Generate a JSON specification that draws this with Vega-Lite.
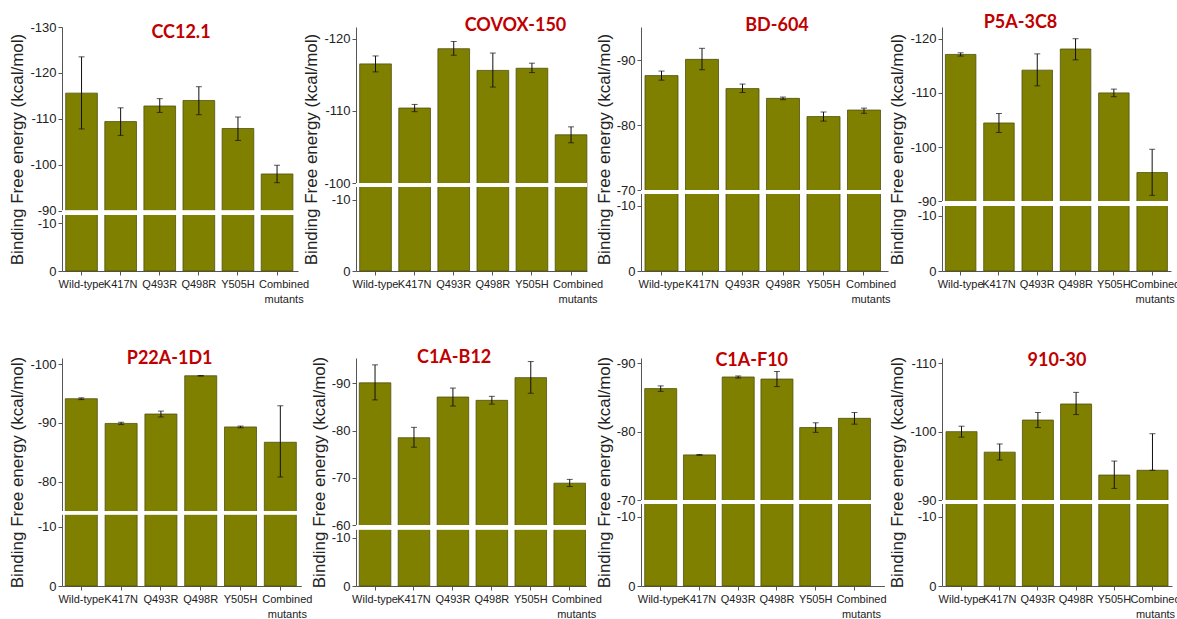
{
  "$schema": "https://vega.github.io/schema/vega-lite/v6.json",
  "padding": {"left": 8, "top": 14, "right": 0, "bottom": 5},
  "background": "white",
  "data": {"values": [
    {"panel": "CC12.1", "mutant": "Wild-type", "value": -115.6, "lo": -107.8, "hi": -123.5},
    {"panel": "CC12.1", "mutant": "K417N", "value": -109.4, "lo": -106.4, "hi": -112.4},
    {"panel": "CC12.1", "mutant": "Q493R", "value": -112.8, "lo": -111.4, "hi": -114.4},
    {"panel": "CC12.1", "mutant": "Q498R", "value": -114.0, "lo": -110.9, "hi": -117.0},
    {"panel": "CC12.1", "mutant": "Y505H", "value": -107.9, "lo": -105.3, "hi": -110.4},
    {"panel": "CC12.1", "mutant": "Combined mutants", "value": -98.0, "lo": -96.1, "hi": -99.9},
    {"panel": "COVOX-150", "mutant": "Wild-type", "value": -116.5, "lo": -115.4, "hi": -117.6},
    {"panel": "COVOX-150", "mutant": "K417N", "value": -110.4, "lo": -109.9, "hi": -110.9},
    {"panel": "COVOX-150", "mutant": "Q493R", "value": -118.6, "lo": -117.7, "hi": -119.6},
    {"panel": "COVOX-150", "mutant": "Q498R", "value": -115.6, "lo": -113.3, "hi": -118.0},
    {"panel": "COVOX-150", "mutant": "Y505H", "value": -115.9, "lo": -115.3, "hi": -116.6},
    {"panel": "COVOX-150", "mutant": "Combined mutants", "value": -106.7, "lo": -105.6, "hi": -107.8},
    {"panel": "BD-604", "mutant": "Wild-type", "value": -87.6, "lo": -86.9, "hi": -88.3},
    {"panel": "BD-604", "mutant": "K417N", "value": -90.1, "lo": -88.5, "hi": -91.8},
    {"panel": "BD-604", "mutant": "Q493R", "value": -85.6, "lo": -85.0, "hi": -86.3},
    {"panel": "BD-604", "mutant": "Q498R", "value": -84.1, "lo": -83.9, "hi": -84.3},
    {"panel": "BD-604", "mutant": "Y505H", "value": -81.3, "lo": -80.6, "hi": -82.0},
    {"panel": "BD-604", "mutant": "Combined mutants", "value": -82.3, "lo": -81.8, "hi": -82.6},
    {"panel": "P5A-3C8", "mutant": "Wild-type", "value": -117.1, "lo": -116.8, "hi": -117.4},
    {"panel": "P5A-3C8", "mutant": "K417N", "value": -104.45, "lo": -102.7, "hi": -106.2},
    {"panel": "P5A-3C8", "mutant": "Q493R", "value": -114.2, "lo": -111.3, "hi": -117.2},
    {"panel": "P5A-3C8", "mutant": "Q498R", "value": -118.1, "lo": -116.1, "hi": -120.0},
    {"panel": "P5A-3C8", "mutant": "Y505H", "value": -110.0, "lo": -109.3, "hi": -110.7},
    {"panel": "P5A-3C8", "mutant": "Combined mutants", "value": -95.3, "lo": -91.1, "hi": -99.6},
    {"panel": "P22A-1D1", "mutant": "Wild-type", "value": -94.1, "lo": -93.95, "hi": -94.25},
    {"panel": "P22A-1D1", "mutant": "K417N", "value": -89.9, "lo": -89.7, "hi": -90.1},
    {"panel": "P22A-1D1", "mutant": "Q493R", "value": -91.5, "lo": -91.0, "hi": -92.0},
    {"panel": "P22A-1D1", "mutant": "Q498R", "value": -98.0, "lo": -97.95, "hi": -98.05},
    {"panel": "P22A-1D1", "mutant": "Y505H", "value": -89.3, "lo": -89.15, "hi": -89.45},
    {"panel": "P22A-1D1", "mutant": "Combined mutants", "value": -86.7, "lo": -80.8, "hi": -92.9},
    {"panel": "C1A-B12", "mutant": "Wild-type", "value": -90.1, "lo": -86.5, "hi": -93.9},
    {"panel": "C1A-B12", "mutant": "K417N", "value": -78.5, "lo": -76.5, "hi": -80.7},
    {"panel": "C1A-B12", "mutant": "Q493R", "value": -87.1, "lo": -85.2, "hi": -89.0},
    {"panel": "C1A-B12", "mutant": "Q498R", "value": -86.4, "lo": -85.6, "hi": -87.25},
    {"panel": "C1A-B12", "mutant": "Y505H", "value": -91.2, "lo": -87.9, "hi": -94.6},
    {"panel": "C1A-B12", "mutant": "Combined mutants", "value": -68.9, "lo": -68.2, "hi": -69.7},
    {"panel": "C1A-F10", "mutant": "Wild-type", "value": -86.3, "lo": -85.9, "hi": -86.7},
    {"panel": "C1A-F10", "mutant": "K417N", "value": -76.6, "lo": -76.55, "hi": -76.65},
    {"panel": "C1A-F10", "mutant": "Q493R", "value": -88.0, "lo": -87.85, "hi": -88.15},
    {"panel": "C1A-F10", "mutant": "Q498R", "value": -87.7, "lo": -86.6, "hi": -88.8},
    {"panel": "C1A-F10", "mutant": "Y505H", "value": -80.6, "lo": -79.9, "hi": -81.3},
    {"panel": "C1A-F10", "mutant": "Combined mutants", "value": -81.95, "lo": -81.1, "hi": -82.8},
    {"panel": "910-30", "mutant": "Wild-type", "value": -100.0, "lo": -99.2, "hi": -100.8},
    {"panel": "910-30", "mutant": "K417N", "value": -97.0, "lo": -95.85, "hi": -98.2},
    {"panel": "910-30", "mutant": "Q493R", "value": -101.7, "lo": -100.6, "hi": -102.8},
    {"panel": "910-30", "mutant": "Q498R", "value": -104.05, "lo": -102.5, "hi": -105.75},
    {"panel": "910-30", "mutant": "Y505H", "value": -93.65, "lo": -91.7, "hi": -95.7},
    {"panel": "910-30", "mutant": "Combined mutants", "value": -94.35, "lo": -94.35, "hi": -99.7}
  ]},
  "columns": 4,
  "spacing": {"row": 87, "column": 54},
  "bounds": "flush",
  "align": "none",
  "concat": [
    {
      "width": 236, "height": 244,
      "title": {"text": "CC12.1", "dx": 1, "dy": 25},
      "transform": [{"filter": "datum.panel === 'CC12.1'"}],
      "layer": [
        {"mark": {"type": "bar", "fill": "#808000", "stroke": "#4f4f10", "strokeWidth": 0.8},
         "encoding": {
           "x": {"field": "mutant", "type": "nominal", "sort": null, "title": null, "scale": {"paddingInner": 0.19, "paddingOuter": 0.1125, "align": 0.42}, "axis": {"labelExpr": "datum.label == 'Combined mutants' ? ['Combined', 'mutants'] : datum.label", "labelOffset": {"condition": {"test": "datum.value == 'Combined mutants'", "value": 7}, "value": 0}}},
           "y": {"field": "value", "type": "quantitative", "title": "Binding Free energy (kcal/mol)", "scale": {"domain": [0, -11.74, -90, -130], "range": [244, 188, 183.7, 0], "nice": false, "zero": false}, "axis": {"values": [0, -10, -90, -100, -110, -120, -130], "labelExpr": "'' + datum.value"}},
           "y2": {"datum": 0}}},
        {"mark": {"type": "rect", "fill": "white"}, "encoding": {"y": {"datum": -11.74, "type": "quantitative", "title": "Binding Free energy (kcal/mol)"}, "y2": {"datum": -90}}},
        {"mark": {"type": "rule", "color": "#111", "strokeWidth": 1}, "encoding": {"x": {"field": "mutant", "type": "nominal", "sort": null, "title": null}, "y": {"field": "lo", "type": "quantitative", "title": "Binding Free energy (kcal/mol)"}, "y2": {"field": "hi"}}},
        {"mark": {"type": "tick", "color": "#111", "size": 6, "thickness": 1}, "encoding": {"x": {"field": "mutant", "type": "nominal", "sort": null, "title": null}, "y": {"field": "lo", "type": "quantitative", "title": "Binding Free energy (kcal/mol)"}}},
        {"mark": {"type": "tick", "color": "#111", "size": 6, "thickness": 1}, "encoding": {"x": {"field": "mutant", "type": "nominal", "sort": null, "title": null}, "y": {"field": "hi", "type": "quantitative", "title": "Binding Free energy (kcal/mol)"}}}
      ]
    },
    {
      "width": 231, "height": 244,
      "title": {"text": "COVOX-150", "dx": 44, "dy": 11.8},
      "transform": [{"filter": "datum.panel === 'COVOX-150'"}],
      "layer": [
        {"mark": {"type": "bar", "fill": "#808000", "stroke": "#4f4f10", "strokeWidth": 0.8},
         "encoding": {
           "x": {"field": "mutant", "type": "nominal", "sort": null, "title": null, "scale": {"paddingInner": 0.19, "paddingOuter": 0.0486, "align": 0.97}, "axis": {"labelExpr": "datum.label == 'Combined mutants' ? ['Combined', 'mutants'] : datum.label", "labelOffset": {"condition": {"test": "datum.value == 'Combined mutants'", "value": 7}, "value": 0}}},
           "y": {"field": "value", "type": "quantitative", "title": "Binding Free energy (kcal/mol)", "scale": {"domain": [0, -11.83, -100, -121.6], "range": [244, 160, 156.3, 0], "nice": false, "zero": false}, "axis": {"values": [0, -10, -100, -110, -120], "labelExpr": "'' + datum.value"}},
           "y2": {"datum": 0}}},
        {"mark": {"type": "rect", "fill": "white"}, "encoding": {"y": {"datum": -11.83, "type": "quantitative", "title": "Binding Free energy (kcal/mol)"}, "y2": {"datum": -100}}},
        {"mark": {"type": "rule", "color": "#111", "strokeWidth": 1}, "encoding": {"x": {"field": "mutant", "type": "nominal", "sort": null, "title": null}, "y": {"field": "lo", "type": "quantitative", "title": "Binding Free energy (kcal/mol)"}, "y2": {"field": "hi"}}},
        {"mark": {"type": "tick", "color": "#111", "size": 6, "thickness": 1}, "encoding": {"x": {"field": "mutant", "type": "nominal", "sort": null, "title": null}, "y": {"field": "lo", "type": "quantitative", "title": "Binding Free energy (kcal/mol)"}}},
        {"mark": {"type": "tick", "color": "#111", "size": 6, "thickness": 1}, "encoding": {"x": {"field": "mutant", "type": "nominal", "sort": null, "title": null}, "y": {"field": "hi", "type": "quantitative", "title": "Binding Free energy (kcal/mol)"}}}
      ]
    },
    {
      "width": 247, "height": 244,
      "title": {"text": "BD-604", "dx": 12.5, "dy": 11.8},
      "transform": [{"filter": "datum.panel === 'BD-604'"}],
      "layer": [
        {"mark": {"type": "bar", "fill": "#808000", "stroke": "#4f4f10", "strokeWidth": 0.8},
         "encoding": {
           "x": {"field": "mutant", "type": "nominal", "sort": null, "title": null, "scale": {"paddingInner": 0.185, "paddingOuter": 0.142, "align": 0.348}, "axis": {"labelExpr": "datum.label == 'Combined mutants' ? ['Combined', 'mutants'] : datum.label", "labelOffset": {"condition": {"test": "datum.value == 'Combined mutants'", "value": 7}, "value": 0}}},
           "y": {"field": "value", "type": "quantitative", "title": "Binding Free energy (kcal/mol)", "scale": {"domain": [0, -11.9, -70, -95.08], "range": [244, 166.6, 163, 0], "nice": false, "zero": false}, "axis": {"values": [0, -10, -70, -80, -90], "labelExpr": "'' + datum.value"}},
           "y2": {"datum": 0}}},
        {"mark": {"type": "rect", "fill": "white"}, "encoding": {"y": {"datum": -11.9, "type": "quantitative", "title": "Binding Free energy (kcal/mol)"}, "y2": {"datum": -70}}},
        {"mark": {"type": "rule", "color": "#111", "strokeWidth": 1}, "encoding": {"x": {"field": "mutant", "type": "nominal", "sort": null, "title": null}, "y": {"field": "lo", "type": "quantitative", "title": "Binding Free energy (kcal/mol)"}, "y2": {"field": "hi"}}},
        {"mark": {"type": "tick", "color": "#111", "size": 6, "thickness": 1}, "encoding": {"x": {"field": "mutant", "type": "nominal", "sort": null, "title": null}, "y": {"field": "lo", "type": "quantitative", "title": "Binding Free energy (kcal/mol)"}}},
        {"mark": {"type": "tick", "color": "#111", "size": 6, "thickness": 1}, "encoding": {"x": {"field": "mutant", "type": "nominal", "sort": null, "title": null}, "y": {"field": "hi", "type": "quantitative", "title": "Binding Free energy (kcal/mol)"}}}
      ]
    },
    {
      "width": 229, "height": 244,
      "title": {"text": "P5A-3C8", "dx": -36, "dy": 9.2},
      "transform": [{"filter": "datum.panel === 'P5A-3C8'"}],
      "layer": [
        {"mark": {"type": "bar", "fill": "#808000", "stroke": "#4f4f10", "strokeWidth": 0.8},
         "encoding": {
           "x": {"field": "mutant", "type": "nominal", "sort": null, "title": null, "scale": {"paddingInner": 0.204, "paddingOuter": 0.0914, "align": 0.486}, "axis": {"labelExpr": "datum.label == 'Combined mutants' ? ['Combined', 'mutants'] : datum.label", "labelOffset": {"condition": {"test": "datum.value == 'Combined mutants'", "value": 3}, "value": 0}}},
           "y": {"field": "value", "type": "quantitative", "title": "Binding Free energy (kcal/mol)", "scale": {"domain": [0, -11.87, -90, -122.16], "range": [244, 178.7, 174.3, 0], "nice": false, "zero": false}, "axis": {"values": [0, -10, -90, -100, -110, -120], "labelExpr": "'' + datum.value"}},
           "y2": {"datum": 0}}},
        {"mark": {"type": "rect", "fill": "white"}, "encoding": {"y": {"datum": -11.87, "type": "quantitative", "title": "Binding Free energy (kcal/mol)"}, "y2": {"datum": -90}}},
        {"mark": {"type": "rule", "color": "#111", "strokeWidth": 1}, "encoding": {"x": {"field": "mutant", "type": "nominal", "sort": null, "title": null}, "y": {"field": "lo", "type": "quantitative", "title": "Binding Free energy (kcal/mol)"}, "y2": {"field": "hi"}}},
        {"mark": {"type": "tick", "color": "#111", "size": 6, "thickness": 1}, "encoding": {"x": {"field": "mutant", "type": "nominal", "sort": null, "title": null}, "y": {"field": "lo", "type": "quantitative", "title": "Binding Free energy (kcal/mol)"}}},
        {"mark": {"type": "tick", "color": "#111", "size": 6, "thickness": 1}, "encoding": {"x": {"field": "mutant", "type": "nominal", "sort": null, "title": null}, "y": {"field": "hi", "type": "quantitative", "title": "Binding Free energy (kcal/mol)"}}}
      ]
    },
    {
      "width": 239.3, "height": 228,
      "title": {"text": "P22A-1D1", "dx": -12, "dy": 15.5},
      "transform": [{"filter": "datum.panel === 'P22A-1D1'"}],
      "layer": [
        {"mark": {"type": "bar", "fill": "#808000", "stroke": "#4f4f10", "strokeWidth": 0.8},
         "encoding": {
           "x": {"field": "mutant", "type": "nominal", "sort": null, "title": null, "scale": {"paddingInner": 0.196, "paddingOuter": 0.104, "align": 0.4}, "axis": {"labelExpr": "datum.label == 'Combined mutants' ? ['Combined', 'mutants'] : datum.label", "labelOffset": {"condition": {"test": "datum.value == 'Combined mutants'", "value": 7}, "value": 0}}},
           "y": {"field": "value", "type": "quantitative", "title": "Binding Free energy (kcal/mol)", "scale": {"domain": [0, -12.09, -75.02, -101.02], "range": [228, 156.3, 153, 0], "nice": false, "zero": false}, "axis": {"values": [0, -10, -80, -90, -100], "labelExpr": "'' + datum.value"}},
           "y2": {"datum": 0}}},
        {"mark": {"type": "rect", "fill": "white"}, "encoding": {"y": {"datum": -12.09, "type": "quantitative", "title": "Binding Free energy (kcal/mol)"}, "y2": {"datum": -75.02}}},
        {"mark": {"type": "rule", "color": "#111", "strokeWidth": 1}, "encoding": {"x": {"field": "mutant", "type": "nominal", "sort": null, "title": null}, "y": {"field": "lo", "type": "quantitative", "title": "Binding Free energy (kcal/mol)"}, "y2": {"field": "hi"}}},
        {"mark": {"type": "tick", "color": "#111", "size": 6, "thickness": 1}, "encoding": {"x": {"field": "mutant", "type": "nominal", "sort": null, "title": null}, "y": {"field": "lo", "type": "quantitative", "title": "Binding Free energy (kcal/mol)"}}},
        {"mark": {"type": "tick", "color": "#111", "size": 6, "thickness": 1}, "encoding": {"x": {"field": "mutant", "type": "nominal", "sort": null, "title": null}, "y": {"field": "hi", "type": "quantitative", "title": "Binding Free energy (kcal/mol)"}}}
      ]
    },
    {
      "width": 230.3, "height": 228,
      "title": {"text": "C1A-B12", "dx": -17, "dy": 15.2},
      "transform": [{"filter": "datum.panel === 'C1A-B12'"}],
      "layer": [
        {"mark": {"type": "bar", "fill": "#808000", "stroke": "#4f4f10", "strokeWidth": 0.8},
         "encoding": {
           "x": {"field": "mutant", "type": "nominal", "sort": null, "title": null, "scale": {"paddingInner": 0.19, "paddingOuter": 0.0526, "align": 0.8}, "axis": {"labelExpr": "datum.label == 'Combined mutants' ? ['Combined', 'mutants'] : datum.label", "labelOffset": {"condition": {"test": "datum.value == 'Combined mutants'", "value": 7}, "value": 0}}},
           "y": {"field": "value", "type": "quantitative", "title": "Binding Free energy (kcal/mol)", "scale": {"domain": [0, -11.74, -60, -95.35], "range": [228, 171.3, 167.3, 0], "nice": false, "zero": false}, "axis": {"values": [0, -10, -60, -70, -80, -90], "labelExpr": "'' + datum.value"}},
           "y2": {"datum": 0}}},
        {"mark": {"type": "rect", "fill": "white"}, "encoding": {"y": {"datum": -11.74, "type": "quantitative", "title": "Binding Free energy (kcal/mol)"}, "y2": {"datum": -60}}},
        {"mark": {"type": "rule", "color": "#111", "strokeWidth": 1}, "encoding": {"x": {"field": "mutant", "type": "nominal", "sort": null, "title": null}, "y": {"field": "lo", "type": "quantitative", "title": "Binding Free energy (kcal/mol)"}, "y2": {"field": "hi"}}},
        {"mark": {"type": "tick", "color": "#111", "size": 6, "thickness": 1}, "encoding": {"x": {"field": "mutant", "type": "nominal", "sort": null, "title": null}, "y": {"field": "lo", "type": "quantitative", "title": "Binding Free energy (kcal/mol)"}}},
        {"mark": {"type": "tick", "color": "#111", "size": 6, "thickness": 1}, "encoding": {"x": {"field": "mutant", "type": "nominal", "sort": null, "title": null}, "y": {"field": "hi", "type": "quantitative", "title": "Binding Free energy (kcal/mol)"}}}
      ]
    },
    {
      "width": 243.4, "height": 228,
      "title": {"text": "C1A-F10", "dx": -11, "dy": 17.7},
      "transform": [{"filter": "datum.panel === 'C1A-F10'"}],
      "layer": [
        {"mark": {"type": "bar", "fill": "#808000", "stroke": "#4f4f10", "strokeWidth": 0.8},
         "encoding": {
           "x": {"field": "mutant", "type": "nominal", "sort": null, "title": null, "scale": {"paddingInner": 0.174, "paddingOuter": 0.228, "align": 0.21}, "axis": {"labelExpr": "datum.label == 'Combined mutants' ? ['Combined', 'mutants'] : datum.label", "labelOffset": {"condition": {"test": "datum.value == 'Combined mutants'", "value": 7}, "value": 0}}},
           "y": {"field": "value", "type": "quantitative", "title": "Binding Free energy (kcal/mol)", "scale": {"domain": [0, -11.83, -70, -90.78], "range": [228, 146, 142, 0], "nice": false, "zero": false}, "axis": {"values": [0, -10, -70, -80, -90], "labelExpr": "'' + datum.value"}},
           "y2": {"datum": 0}}},
        {"mark": {"type": "rect", "fill": "white"}, "encoding": {"y": {"datum": -11.83, "type": "quantitative", "title": "Binding Free energy (kcal/mol)"}, "y2": {"datum": -70}}},
        {"mark": {"type": "rule", "color": "#111", "strokeWidth": 1}, "encoding": {"x": {"field": "mutant", "type": "nominal", "sort": null, "title": null}, "y": {"field": "lo", "type": "quantitative", "title": "Binding Free energy (kcal/mol)"}, "y2": {"field": "hi"}}},
        {"mark": {"type": "tick", "color": "#111", "size": 6, "thickness": 1}, "encoding": {"x": {"field": "mutant", "type": "nominal", "sort": null, "title": null}, "y": {"field": "lo", "type": "quantitative", "title": "Binding Free energy (kcal/mol)"}}},
        {"mark": {"type": "tick", "color": "#111", "size": 6, "thickness": 1}, "encoding": {"x": {"field": "mutant", "type": "nominal", "sort": null, "title": null}, "y": {"field": "hi", "type": "quantitative", "title": "Binding Free energy (kcal/mol)"}}}
      ]
    },
    {
      "width": 230, "height": 228,
      "title": {"text": "910-30", "dx": 0, "dy": 17.7},
      "transform": [{"filter": "datum.panel === '910-30'"}],
      "layer": [
        {"mark": {"type": "bar", "fill": "#808000", "stroke": "#4f4f10", "strokeWidth": 0.8},
         "encoding": {
           "x": {"field": "mutant", "type": "nominal", "sort": null, "title": null, "scale": {"paddingInner": 0.188, "paddingOuter": 0.105, "align": 0.5}, "axis": {"labelExpr": "datum.label == 'Combined mutants' ? ['Combined', 'mutants'] : datum.label", "labelOffset": {"condition": {"test": "datum.value == 'Combined mutants'", "value": 3}, "value": 0}}},
           "y": {"field": "value", "type": "quantitative", "title": "Binding Free energy (kcal/mol)", "scale": {"domain": [0, -11.83, -90, -110.78], "range": [228, 146, 142, 0], "nice": false, "zero": false}, "axis": {"values": [0, -10, -90, -100, -110], "labelExpr": "'' + datum.value"}},
           "y2": {"datum": 0}}},
        {"mark": {"type": "rect", "fill": "white"}, "encoding": {"y": {"datum": -11.83, "type": "quantitative", "title": "Binding Free energy (kcal/mol)"}, "y2": {"datum": -90}}},
        {"mark": {"type": "rule", "color": "#111", "strokeWidth": 1}, "encoding": {"x": {"field": "mutant", "type": "nominal", "sort": null, "title": null}, "y": {"field": "lo", "type": "quantitative", "title": "Binding Free energy (kcal/mol)"}, "y2": {"field": "hi"}}},
        {"mark": {"type": "tick", "color": "#111", "size": 6, "thickness": 1}, "encoding": {"x": {"field": "mutant", "type": "nominal", "sort": null, "title": null}, "y": {"field": "lo", "type": "quantitative", "title": "Binding Free energy (kcal/mol)"}}},
        {"mark": {"type": "tick", "color": "#111", "size": 6, "thickness": 1}, "encoding": {"x": {"field": "mutant", "type": "nominal", "sort": null, "title": null}, "y": {"field": "hi", "type": "quantitative", "title": "Binding Free energy (kcal/mol)"}}}
      ]
    }
  ],
  "config": {
    "view": {"stroke": null},
    "title": {"anchor": "middle", "frame": "group", "offset": 0, "baseline": "middle", "font": "Lato", "fontSize": 18, "fontWeight": "bold", "color": "#C00000"},
    "axis": {"grid": false, "domainColor": "#555", "tickColor": "#555", "labelColor": "#222", "titleColor": "#222", "labelFont": "Liberation Sans", "titleFont": "Liberation Sans", "titleFontWeight": "normal"},
    "axisY": {"labelFontSize": 13, "titleFontSize": 17, "tickSize": 4, "labelPadding": 2, "titlePadding": 3, "labelOverlap": false},
    "axisX": {"labelFont": "Liberation Sans", "labelFontSize": 11, "labelAngle": 0, "tickSize": 4, "labelPadding": 3, "labelLineHeight": 15, "labelOverlap": false}
  }
}
